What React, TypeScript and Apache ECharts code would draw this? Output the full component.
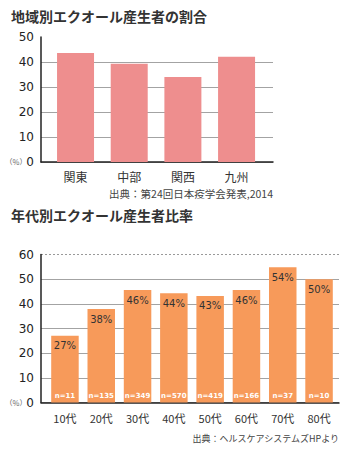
import { useEffect, useRef } from "react";
import * as echarts from "echarts";

const regionTitle = "地域別エクオール産生者の割合";
const regions = ["関東", "中部", "関西", "九州"];
const regionValues = [43.6, 39.3, 34.0, 42.1];
const regionSource = "出典：第24回日本疫学会発表,2014";

const ageTitle = "年代別エクオール産生者比率";
const ages = ["10代", "20代", "30代", "40代", "50代", "60代", "70代", "80代"];
const ageValues = [27.1, 37.9, 45.6, 44.3, 43.2, 45.6, 54.8, 50.0];
const ageRateLabels = ["27%", "38%", "46%", "44%", "43%", "46%", "54%", "50%"];
const ageN = [11, 135, 349, 570, 419, 166, 37, 10];
const ageSource = "出典：ヘルスケアシステムズHPより";
const unitLabel = "（%）";

const JP = "'Noto Sans CJK JP', sans-serif";
const NUM = "'DejaVu Sans', sans-serif";
const AXIS = "#222";
const GRIDC = "#a3a3a3";

export default function App() {
  const ref = useRef<HTMLDivElement>(null);
  useEffect(() => {
    if (!ref.current) return;
    const chart = echarts.init(ref.current, null, { renderer: "svg" });
    const frameX = (gridIndex: number) => ({
      gridIndex,
      type: "category",
      data: [""],
      axisLine: { show: true, lineStyle: { color: AXIS, width: 1.5 } },
      axisTick: { show: false },
      axisLabel: { show: false },
      splitLine: { show: false },
    });
    const frameY = (gridIndex: number, max: number) => ({
      gridIndex,
      type: "value",
      min: 0,
      max,
      interval: 10,
      axisLine: { show: true, lineStyle: { color: AXIS, width: 1.5 } },
      axisTick: { show: false },
      axisLabel: { fontFamily: NUM, fontSize: 12, color: "#222", margin: 7 },
      splitLine: { show: true, showMaxLine: false, lineStyle: { color: GRIDC, width: 1 } },
    });
    const option: any = {
      animation: false,
      backgroundColor: "#fff",
      grid: [
        { left: 41, top: 37, width: 232, height: 125, containLabel: false, outerBoundsMode: "none" },
        { left: 48.7, top: 37, width: 214.7, height: 125, containLabel: false, outerBoundsMode: "none" },
        { left: 41, top: 254.5, width: 298, height: 148, containLabel: false, outerBoundsMode: "none" },
        { left: 46.8, top: 254.5, width: 290.4, height: 148, containLabel: false, outerBoundsMode: "none" },
      ],
      xAxis: [
        frameX(0),
        {
          gridIndex: 1,
          type: "category",
          data: regions,
          axisLine: { show: false },
          axisTick: { show: false },
          axisLabel: { fontFamily: JP, fontSize: 12, color: "#333", margin: 8 },
        },
        frameX(2),
        {
          gridIndex: 3,
          type: "category",
          data: ages,
          axisLine: { show: false },
          axisTick: { show: false },
          axisLabel: { fontFamily: JP, fontSize: 11, color: "#333", margin: 10 },
        },
      ],
      yAxis: [
        frameY(0, 50),
        { gridIndex: 1, type: "value", min: 0, max: 50, show: false },
        frameY(2, 60),
        {
          gridIndex: 2,
          type: "value",
          position: "left",
          min: 0,
          max: 60,
          interval: 60,
          axisLine: { show: false },
          axisTick: { show: false },
          axisLabel: { show: false },
          splitLine: { show: true, showMinLine: false, lineStyle: { color: "#999", width: 1, type: [2, 2] } },
        },
        { gridIndex: 3, type: "value", min: 0, max: 60, show: false },
      ],
      series: [
        {
          type: "bar",
          xAxisIndex: 1,
          yAxisIndex: 1,
          data: regionValues,
          barWidth: 37,
          itemStyle: { color: "#ee8e8e" },
        },
        {
          type: "bar",
          xAxisIndex: 3,
          yAxisIndex: 4,
          data: ageValues,
          barWidth: 27.5,
          barGap: "-100%",
          itemStyle: { color: "#f79a5a" },
          label: {
            show: true,
            position: "insideTop",
            distance: 5,
            formatter: (p: any) => ageRateLabels[p.dataIndex],
            fontFamily: NUM,
            fontSize: 10,
            color: "#333",
          },
        },
        {
          type: "bar",
          xAxisIndex: 3,
          yAxisIndex: 4,
          data: ageValues,
          barWidth: 27.5,
          barGap: "-100%",
          silent: true,
          itemStyle: { color: "rgba(0,0,0,0)" },
          label: {
            show: true,
            position: "insideBottom",
            distance: 3,
            formatter: (p: any) => "n=" + ageN[p.dataIndex],
            fontFamily: NUM,
            fontWeight: "bold",
            fontSize: 7,
            color: "#fff",
          },
        },
      ],
      graphic: [
        { type: "text", x: 11, y: 16, style: { text: regionTitle, fontFamily: JP, fontSize: 14, fontWeight: "bold", fill: "#333", textVerticalAlign: "middle" } },
        { type: "text", x: 11, y: 215, style: { text: ageTitle, fontFamily: JP, fontSize: 14, fontWeight: "bold", fill: "#333", textVerticalAlign: "middle" } },
        { type: "text", x: 5, y: 161, style: { text: unitLabel, fontFamily: JP, fontSize: 7.5, fill: "#666", textVerticalAlign: "middle" } },
        { type: "text", x: 5, y: 402, style: { text: unitLabel, fontFamily: JP, fontSize: 7.5, fill: "#666", textVerticalAlign: "middle" } },
        { type: "text", x: 273, y: 193, style: { text: regionSource, fontFamily: JP, fontSize: 10.5, fill: "#444", textAlign: "right", textVerticalAlign: "middle" } },
        { type: "text", x: 339, y: 438, style: { text: ageSource, fontFamily: JP, fontSize: 9, fill: "#444", textAlign: "right", textVerticalAlign: "middle" } },
      ],
    };
    chart.setOption(option);
    return () => chart.dispose();
  }, []);
  return (
    <div
      ref={ref}
      style={{ position: "fixed", left: 0, top: 0, width: 355, height: 450, background: "#fff" }}
    />
  );
}
